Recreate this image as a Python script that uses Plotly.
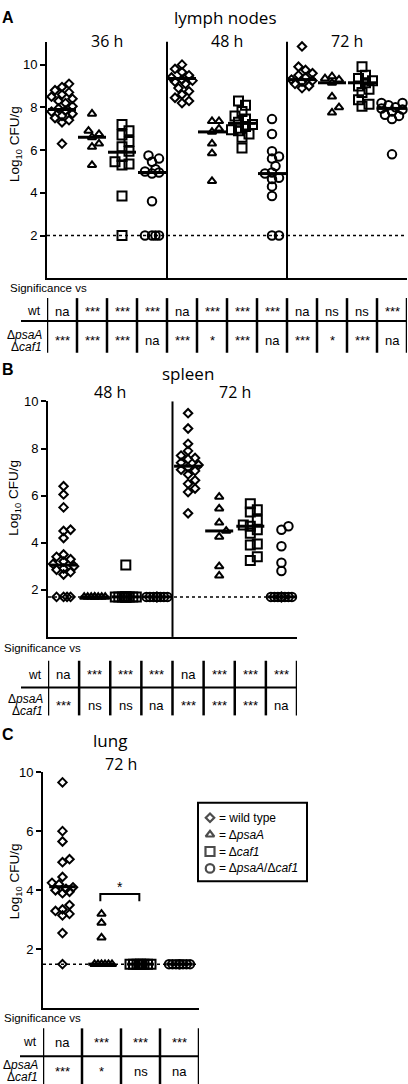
import math
import plotly.graph_objects as go

W, H = 408, 1084

# ---------------- data (Log10 CFU/g) ----------------
legend_labels = ["= wild type", "= Δ<i>psaA</i>", "= Δ<i>caf1</i>", "= Δ<i>psaA</i>/Δ<i>caf1</i>"]

# A  lymph nodes
ln_times = ["36 h", "48 h", "72 h"]
ln36_wt = [9.1, 8.95, 8.8, 8.7, 8.6, 8.5, 8.4, 8.3, 8.2, 8.05, 7.95, 7.85, 7.8, 7.7, 7.6, 7.5, 7.4, 7.3, 6.3]
ln36_psaA = [7.7, 6.9, 6.75, 6.6, 6.3, 6.15, 5.3]
ln36_caf1 = [7.2, 6.9, 6.7, 6.4, 6.15, 5.95, 5.7, 5.45, 5.35, 5.3, 3.85, 2.0]
ln36_dbl = [5.75, 5.6, 5.45, 5.1, 5.0, 4.95, 4.9, 3.6, 2.0, 2.0, 2.0, 2.0]
ln48_wt = [10.0, 9.8, 9.65, 9.5, 9.4, 9.3, 9.25, 9.2, 9.1, 8.9, 8.75, 8.6, 8.45, 8.3, 8.2]
ln48_psaA = [7.35, 7.35, 7.0, 6.85, 6.3, 5.85, 4.55]
ln48_caf1 = [8.3, 8.1, 7.8, 7.6, 7.45, 7.3, 7.2, 7.1, 6.95, 6.9, 6.75, 6.6, 6.1]
ln48_dbl = [7.45, 6.75, 5.95, 5.7, 5.6, 5.25, 4.95, 4.9, 4.7, 4.65, 4.3, 3.85, 2.0, 2.0]
ln72_wt = [10.85, 9.9, 9.75, 9.6, 9.5, 9.4, 9.3, 9.25, 9.2, 9.1, 9.0, 8.9]
ln72_psaA = [9.45, 9.35, 9.3, 9.15, 8.5, 8.0, 7.75]
ln72_caf1 = [9.9, 9.5, 9.35, 9.25, 9.15, 9.0, 8.85, 8.7, 8.35, 8.15, 8.05]
ln72_dbl = [8.2, 8.2, 8.1, 8.0, 7.95, 7.9, 7.8, 7.65, 7.6, 7.45, 5.8]
ln_median = [7.9, 6.6, 5.9, 4.95, 9.35, 6.85, 7.25, 4.9, 9.3, 9.15, 9.15, 7.95]
ln_lod = 2.0
ln_ticks = [2, 4, 6, 8, 10]
ln_sig_wt = ["na", "***", "***", "***", "na", "***", "***", "***", "na", "ns", "ns", "***"]
ln_sig_dd = ["***", "***", "***", "na", "***", "*", "***", "na", "***", "*", "***", "na"]

# B  spleen
sp_times = ["48 h", "72 h"]
sp48_wt = [6.4, 6.05, 5.5, 4.55, 4.5, 4.2, 3.5, 3.4, 3.3, 3.2, 3.1, 3.0, 2.9, 2.85, 2.75, 2.65, 1.7, 1.7, 1.7, 1.7]
sp48_psaA = [1.7, 1.7, 1.7, 1.7, 1.7, 1.7, 1.7, 1.7]
sp48_caf1 = [3.05, 1.7, 1.7, 1.7, 1.7, 1.7, 1.7, 1.7, 1.7, 1.7, 1.7]
sp48_dbl = [1.7, 1.7, 1.7, 1.7, 1.7, 1.7, 1.7, 1.7, 1.7, 1.7, 1.7, 1.7]
sp72_wt = [9.5, 8.85, 8.2, 7.9, 7.7, 7.6, 7.55, 7.4, 7.3, 7.2, 7.1, 7.05, 6.9, 6.65, 6.5, 6.3, 6.15, 5.25]
sp72_psaA = [5.95, 5.45, 4.85, 4.5, 4.25, 3.0, 2.6]
sp72_caf1 = [5.65, 5.4, 5.3, 4.95, 4.75, 4.7, 4.55, 4.4, 3.95, 3.9, 3.4, 3.25]
sp72_dbl = [4.7, 4.55, 3.85, 3.15, 2.8, 1.7, 1.7, 1.7, 1.7, 1.7, 1.7, 1.7, 1.7, 1.7, 1.7, 1.7, 1.7]
sp_median = [3.05, 1.7, 1.7, 1.7, 7.25, 4.5, 4.7, 1.7]
sp_lod = 1.7
sp_ticks = [2, 4, 6, 8, 10]
sp_sig_wt = ["na", "***", "***", "***", "na", "***", "***", "***"]
sp_sig_dd = ["***", "ns", "ns", "na", "***", "***", "***", "na"]

# C  lung (axis as printed: tick labels 2, 4, 6, 10)
lu_times = ["72 h"]
lu72_wt = [7.65, 6.0, 5.65, 5.05, 4.95, 4.45, 4.25, 4.2, 4.1, 4.05, 4.0, 3.95, 3.9, 3.5, 3.35, 3.3, 3.2, 3.15, 2.55, 1.5]
lu72_psaA = [3.2, 2.9, 2.4, 1.5, 1.5, 1.5, 1.5, 1.5, 1.5]
lu72_caf1 = [1.5, 1.5, 1.5, 1.5, 1.5, 1.5, 1.5, 1.5]
lu72_dbl = [1.5, 1.5, 1.5, 1.5, 1.5, 1.5, 1.5, 1.5]
lu_median = [4.12, 1.5, 1.5, 1.5]
lu_lod = 1.5
lu_ticks = [2, 4, 6, 8]
lu_ticktext = ["2", "4", "6", "10"]
lu_sig_wt = ["na", "***", "***", "***"]
lu_sig_dd = ["***", "*", "ns", "na"]

# ---------------- styling ----------------
SYMBOLS = ["diamond-open", "triangle-up-open", "square-open", "circle-open"]
SIZES = [6.5, 7.5, 9, 8.5]
SANS = "Liberation Sans"
TITLE_FONT = "Open Sans"


def px(x):
    return x / W


def py(y):
    return 1 - y / H


def swarm(vals, ppx, ppy, d=7.0, maxw=10.5, step=3.5):
    idx = sorted(range(len(vals)), key=lambda i: (vals[i], i))
    cands = [0.0]
    k = 1
    while k * step <= maxw + 1e-9:
        cands += [k * step, -k * step]
        k += 1
    placed = []
    offs = [0.0] * len(vals)
    for i in idx:
        yp = vals[i] * ppy
        best, bestd = 0.0, -1.0
        for c in cands:
            md = min((math.hypot(c - a, yp - b) for a, b in placed), default=1e9)
            if md >= d:
                best = c
                break
            if md > bestd:
                best, bestd = c, md
        placed.append((best, yp))
        offs[i] = best / ppx
    return offs


# panel geometry (pixels)
panels = {
    "A": dict(xa="x", ya="y", left=47, right=407, top=35, bottom=273, ngroups=12, ymax=11.07),
    "B": dict(xa="x2", ya="y2", left=48, right=297, top=397, bottom=634, ngroups=8, ymax=10.0),
    "C": dict(xa="x3", ya="y3", left=43, right=199, top=770, bottom=1008, ngroups=4, ymax=8.0),
}

fig = go.Figure()
shapes = []
annots = []


def add_groups(key, series, medians, msize):
    p = panels[key]
    ppx = (p["right"] - p["left"]) / p["ngroups"]
    ppy = (p["bottom"] - p["top"]) / p["ymax"]
    for g, vals in enumerate(series):
        offs = swarm(vals, ppx, ppy)
        fig.add_trace(go.Scatter(
            x=[g + o for o in offs], y=vals, mode="markers", xaxis=p["xa"], yaxis=p["ya"],
            marker=dict(symbol=SYMBOLS[g % 4], size=SIZES[g % 4], color="black",
                        line=dict(color="black", width=2)),
            cliponaxis=False, hoverinfo="y", showlegend=False))
    fig.add_trace(go.Scatter(
        x=list(range(len(medians))), y=medians, mode="markers", xaxis=p["xa"], yaxis=p["ya"],
        marker=dict(symbol="line-ew-open", size=msize, color="black",
                    line=dict(color="black", width=3)),
        cliponaxis=False, hoverinfo="y", showlegend=False))


add_groups("A", [ln36_wt, ln36_psaA, ln36_caf1, ln36_dbl,
                 ln48_wt, ln48_psaA, ln48_caf1, ln48_dbl,
                 ln72_wt, ln72_psaA, ln72_caf1, ln72_dbl], ln_median, 20)
add_groups("B", [sp48_wt, sp48_psaA, sp48_caf1, sp48_dbl,
                 sp72_wt, sp72_psaA, sp72_caf1, sp72_dbl], sp_median, 20)
add_groups("C", [lu72_wt, lu72_psaA, lu72_caf1, lu72_dbl], lu_median, 19)


def axis_pair(key, ticks, ticktext=None):
    p = panels[key]
    xd = [px(p["left"]), px(p["right"])]
    yd = [py(p["bottom"]), py(p["top"])]
    xa = dict(domain=xd, range=[-0.5, p["ngroups"] - 0.5], anchor=p["ya"],
              showline=True, linewidth=2, linecolor="black", showticklabels=False,
              ticks="", showgrid=False, zeroline=False, fixedrange=True)
    ya = dict(domain=yd, range=[0, p["ymax"]], anchor=p["xa"],
              showline=True, linewidth=2, linecolor="black", ticks="outside",
              ticklen=5, tickwidth=1.5, tickcolor="black", tickvals=ticks,
              ticktext=ticktext if ticktext else [str(t) for t in ticks],
              tickfont=dict(family=SANS, size=13, color="black"),
              showgrid=False, zeroline=False, fixedrange=True)
    return xa, ya


xA, yA = axis_pair("A", ln_ticks)
xB, yB = axis_pair("B", sp_ticks)
xC, yC = axis_pair("C", lu_ticks, lu_ticktext)


def text(t, x, y, size, family=SANS, xref="paper", yref="paper", xanchor="center",
         yanchor="middle", angle=0):
    annots.append(dict(text=t, x=x, y=y, xref=xref, yref=yref, xanchor=xanchor,
                       yanchor=yanchor, showarrow=False, textangle=angle,
                       font=dict(family=family, size=size, color="black")))


def vline_divider(key, xval):
    p = panels[key]
    shapes.append(dict(type="line", xref=p["xa"], yref=p["ya"] + " domain", x0=xval, x1=xval,
                       y0=0, y1=1, line=dict(color="black", width=2)))


def lod_line(key, val):
    p = panels[key]
    shapes.append(dict(type="line", xref=p["xa"] + " domain", yref=p["ya"], x0=0, x1=1,
                       y0=val, y1=val, line=dict(color="black", width=1.5, dash="dot")))


def table(key, wt_vals, dd_vals, sig_x, sig_y, top, mid, bot, row1, row2a, row2b, hl_left):
    p = panels[key]
    n = len(wt_vals)
    text("Significance vs", px(sig_x), py(sig_y), 11.5, xanchor="left")
    for k in range(n + 1):
        shapes.append(dict(type="line", xref=p["xa"], yref="paper", x0=k - 0.5, x1=k - 0.5,
                           y0=py(top), y1=py(bot), line=dict(color="black", width=2.5)))
    shapes.append(dict(type="line", xref="paper", yref="paper", x0=px(hl_left), x1=px(p["right"]),
                       y0=py(mid), y1=py(mid), line=dict(color="black", width=2)))
    text("wt", px(p["left"] - 4), py(row1), 12, xanchor="right")
    text("Δ<i>psaA</i>", px(p["left"] - 3), py(row2a), 12, xanchor="right")
    text("Δ<i>caf1</i>", px(p["left"] - 3), py(row2b), 12, xanchor="right")
    rc = (row2a + row2b) / 2
    for k, t in enumerate(wt_vals):
        text(t, k, py(row1), 13, xref=p["xa"])
    for k, t in enumerate(dd_vals):
        text(t, k, py(rc), 13, xref=p["xa"])


# ---- Panel A ----
text("<b>A</b>", px(8), py(11), 16, family=SANS)
text("lymph nodes", px(225), py(11), 17, family=TITLE_FONT)
for k, t in enumerate(ln_times):
    text(t, 1.5 + 4 * k, py(34), 16, family=TITLE_FONT, xref="x")
text("Log<sub>10</sub> CFU/g", px(15), py(138), 13.5, angle=-90)
vline_divider("A", 3.5)
vline_divider("A", 7.5)
lod_line("A", ln_lod)
table("A", ln_sig_wt, ln_sig_dd, 8, 283, 293, 316, 348, 306, 330, 342, 21)

# ---- Panel B ----
text("<b>B</b>", px(8), py(365), 16, family=SANS)
text("spleen", px(188), py(369), 17, family=TITLE_FONT)
for k, t in enumerate(sp_times):
    text(t, 1.5 + 4 * k, py(388), 16, family=TITLE_FONT, xref="x2")
text("Log<sub>10</sub> CFU/g", px(15), py(494), 13.5, angle=-90)
vline_divider("B", 3.5)
lod_line("B", sp_lod)
table("B", sp_sig_wt, sp_sig_dd, 2, 645, 658, 685, 713, 672, 697, 709, 21)

# ---- Panel C ----
text("<b>C</b>", px(8), py(732), 16, family=SANS)
text("lung", px(110), py(738), 17, family=TITLE_FONT)
text(lu_times[0], 1.5, py(762), 16, family=TITLE_FONT, xref="x3")
text("Log<sub>10</sub> CFU/g", px(15), py(880), 13.5, angle=-90)
lod_line("C", lu_lod)
table("C", lu_sig_wt, lu_sig_dd, 2, 1018, 1028, 1056, 1086, 1042, 1065, 1077, 20)

# significance bracket between psaA and caf1 in lung
shapes.append(dict(type="path", xref="x3", yref="y3",
                   path="M 0.97 3.63 L 0.97 3.87 L 1.97 3.87 L 1.97 3.63",
                   line=dict(color="black", width=2)))
text("*", 1.47, 4.12, 14, xref="x3", yref="y3")

# legend box (pixel-space overlay axis)
shapes.append(dict(type="rect", xref="paper", yref="paper", x0=px(198), x1=px(307),
                   y0=py(801), y1=py(880), line=dict(color="black", width=2),
                   fillcolor="rgba(0,0,0,0)"))
leg_y = [816, 833, 850, 867]
fig.add_trace(go.Scatter(
    x=[210, 210, 210, 210], y=leg_y, mode="markers", xaxis="x4", yaxis="y4",
    marker=dict(symbol=SYMBOLS, size=SIZES, color="black", line=dict(color="black", width=2.2)),
    hoverinfo="skip", showlegend=False))
for lab, yy in zip(legend_labels, leg_y):
    text(lab, px(217), py(yy), 12, xanchor="left")

fig.update_layout(
    width=W, height=H, margin=dict(l=0, r=0, t=0, b=0),
    paper_bgcolor="white", plot_bgcolor="rgba(0,0,0,0)", showlegend=False,
    font=dict(family=SANS, color="black"),
    xaxis=xA, yaxis=yA, xaxis2=xB, yaxis2=yB, xaxis3=xC, yaxis3=yC,
    xaxis4=dict(domain=[0, 1], range=[0, W], visible=False, anchor="y4", fixedrange=True),
    yaxis4=dict(domain=[0, 1], range=[H, 0], visible=False, anchor="x4", fixedrange=True),
    shapes=shapes, annotations=annots,
)

fig.write_html("out.html", config={"displayModeBar": False},
               post_script="document.body.style.margin='0';document.body.style.overflow='hidden';")
